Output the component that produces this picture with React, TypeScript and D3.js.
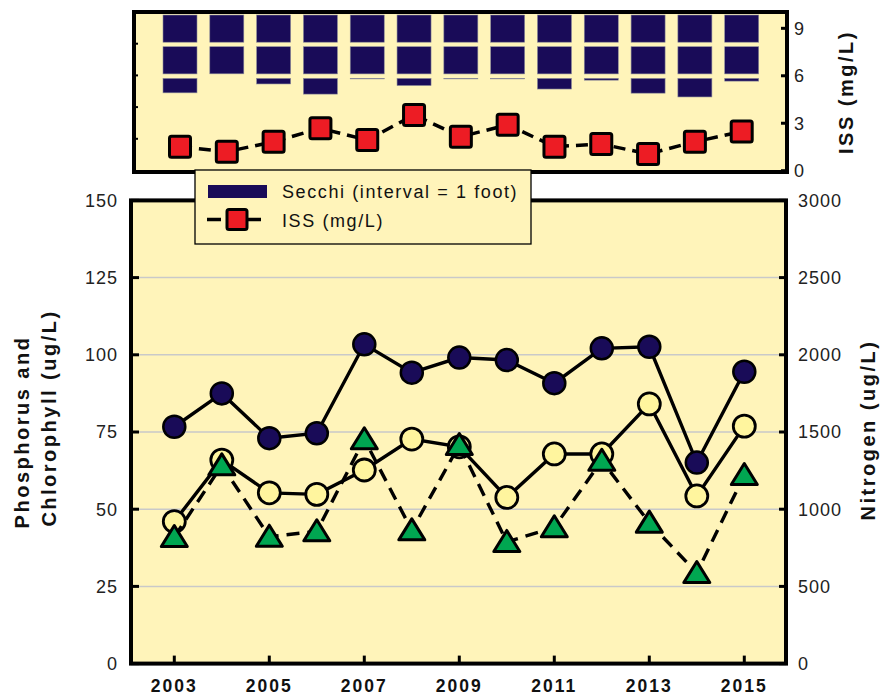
import React from 'react';
import * as d3 from 'd3';

// values
const years = [2003, 2004, 2005, 2006, 2007, 2008, 2009, 2010, 2011, 2012, 2013, 2014, 2015];
const secchiFt = [2.55, 1.95, 2.27, 2.59, 2.11, 2.32, 2.11, 2.11, 2.43, 2.15, 2.56, 2.68, 2.18];
const issMgL = [1.52, 1.2, 1.83, 2.68, 1.94, 3.52, 2.15, 2.9, 1.52, 1.69, 1.06, 1.83, 2.47];
const phosphorus = [76.7, 87.5, 73, 74.6, 103.4, 94.2, 99.1, 98.3, 90.8, 102.1, 102.6, 65.1, 94.5];
const chlorophyll = [46, 65.9, 55.3, 54.8, 62.7, 72.7, 70.2, 53.8, 67.9, 67.9, 84.1, 54.3, 76.9];
const nitrogen = [820, 1284, 822, 857, 1453, 863, 1416, 788, 883, 1314, 913, 587, 1221];

const leftTicks = [0, 25, 50, 75, 100, 125, 150];
const rightTicks = [0, 500, 1000, 1500, 2000, 2500, 3000];
const issTicks = [0, 3, 6, 9];
const secchiTicks = [1, 2, 3, 4];
const yearTicks = [2003, 2005, 2007, 2009, 2011, 2013, 2015];

const BG = '#FFF4BA';
const NAVY = '#190B58';
const FONT = "'Liberation Sans', Arial, Helvetica, sans-serif";

export default function App() {
  const W = 887;
  const H = 696;

  // main panel
  const main = { left: 131, right: 786, top: 200.4, bottom: 663.6 };
  const x = d3.scaleLinear().domain([2003, 2015]).range([174.3, 744.3]);
  const yL = d3.scaleLinear().domain([0, 150]).range([main.bottom, main.top]);
  const yR = d3.scaleLinear().domain([0, 3000]).range([main.bottom, main.top]);

  // top panel
  const top = { left: 134, right: 787, top: 12, bottom: 172 };
  const xT = d3.scaleLinear().domain([2003, 2015]).range([180, 741.7]);
  const ySec = d3.scaleLinear().domain([0, 5]).range([top.top, top.top + 5 * 31.7]);
  const yIss = d3.scaleLinear().domain([0, 10]).range([170.7, 12.5]);

  const barW = 34;

  const lineP = d3.line<number>().x((_, i) => x(years[i])).y(d => yL(d));
  const lineN = d3.line<number>().x((_, i) => x(years[i])).y(d => yR(d));
  const lineIss = d3.line<number>().x((_, i) => xT(years[i])).y(d => yIss(d));

  const tri = (cx: number, cy: number) =>
    `M${cx},${cy - 11.5}L${cx + 13},${cy + 9.5}L${cx - 13},${cy + 9.5}Z`;

  // secchi bars split into 1-foot pieces
  const segs: { yr: number; y0: number; y1: number }[] = [];
  years.forEach((yr, i) => {
    const v = secchiFt[i];
    for (let k = 0; k < Math.ceil(v); k++) {
      const y0 = ySec(k) + 3;
      const y1 = ySec(Math.min(k + 1, v)) - (k + 1 <= v ? 1.5 : 0);
      if (y1 > y0) segs.push({ yr, y0, y1 });
    }
  });

  const tickText = { fontFamily: FONT, fontSize: 18, letterSpacing: 1, fill: '#222' };
  const titleText = { fontFamily: FONT, fontSize: 20, fontWeight: 700, letterSpacing: 2.5, fill: '#111' };

  return (
    <svg width={W} height={H} style={{ position: 'absolute', left: 0, top: 0, background: '#fff' }}>
      {/* ---------- top panel ---------- */}
      <rect x={top.left} y={top.top} width={top.right - top.left} height={top.bottom - top.top} fill={BG} />
      {segs.map((s, i) => (
        <rect key={'s' + i} x={xT(s.yr) - barW / 2} y={s.y0} width={barW} height={s.y1 - s.y0}
          fill={NAVY} stroke="#8a8a9a" strokeWidth={0.6} />
      ))}
      <path d={lineIss(issMgL) || ''} fill="none" stroke="#000" strokeWidth={3.5} strokeDasharray="12 7" />
      {issMgL.map((v, i) => (
        <rect key={'q' + i} x={xT(years[i]) - 10.5} y={yIss(v) - 10.5} width={21} height={21} rx={2}
          fill="#ED1C24" stroke="#000" strokeWidth={3} />
      ))}
      {secchiTicks.map(t => (
        <line key={'st' + t} x1={top.left} x2={top.left + 4} y1={ySec(t)} y2={ySec(t)} stroke="#000" strokeWidth={2} />
      ))}
      {issTicks.map(t => (
        <g key={'it' + t}>
          <line x1={top.right - 6} x2={top.right} y1={yIss(t)} y2={yIss(t)} stroke="#000" strokeWidth={3} />
          <text x={794} y={yIss(t)} dy="0.36em" style={tickText}>{t}</text>
        </g>
      ))}
      <rect x={top.left} y={top.top} width={top.right - top.left} height={top.bottom - top.top}
        fill="none" stroke="#000" strokeWidth={4} />
      <text transform={`translate(853,92) rotate(-90)`} textAnchor="middle" style={titleText}>ISS (mg/L)</text>

      {/* ---------- main panel ---------- */}
      <rect x={main.left} y={main.top} width={main.right - main.left} height={main.bottom - main.top} fill={BG} />
      {leftTicks.filter(t => t > 0 && t < 150).map(t => (
        <line key={'g' + t} x1={main.left} x2={main.right} y1={yL(t)} y2={yL(t)} stroke="#c9c9c9" strokeWidth={1.5} />
      ))}

      <path d={lineP(phosphorus) || ''} fill="none" stroke="#000" strokeWidth={3.4} />
      {phosphorus.map((v, i) => (
        <circle key={'p' + i} cx={x(years[i])} cy={yL(v)} r={11} fill={NAVY} stroke="#000" strokeWidth={2.5} />
      ))}
      <path d={lineP(chlorophyll) || ''} fill="none" stroke="#000" strokeWidth={3.4} />
      {chlorophyll.map((v, i) => (
        <circle key={'c' + i} cx={x(years[i])} cy={yL(v)} r={11} fill="#FFF59E" stroke="#000" strokeWidth={2.8} />
      ))}
      <path d={lineN(nitrogen) || ''} fill="none" stroke="#000" strokeWidth={3.4} strokeDasharray="13 8" />
      {nitrogen.map((v, i) => (
        <path key={'n' + i} d={tri(x(years[i]), yR(v))} fill="#00A651" stroke="#000" strokeWidth={3} strokeLinejoin="round" />
      ))}

      {leftTicks.map(t => (
        <g key={'lt' + t}>
          <line x1={main.left} x2={main.left + 8} y1={yL(t)} y2={yL(t)} stroke="#000" strokeWidth={3} />
          <text x={118} y={yL(t)} dy="0.36em" textAnchor="end" style={tickText}>{t}</text>
        </g>
      ))}
      {rightTicks.map(t => (
        <g key={'rt' + t}>
          <line x1={main.right - 7} x2={main.right} y1={yR(t)} y2={yR(t)} stroke="#000" strokeWidth={3} />
          <text x={798} y={yR(t)} dy="0.36em" style={tickText}>{t}</text>
        </g>
      ))}
      {yearTicks.map(t => (
        <g key={'yt' + t}>
          <line x1={x(t)} x2={x(t)} y1={main.bottom} y2={main.bottom - 8} stroke="#000" strokeWidth={3} />
          <text x={x(t)} y={692} textAnchor="middle"
            style={{ fontFamily: FONT, fontSize: 17.5, fontWeight: 700, letterSpacing: 2, fill: '#111' }}>{t}</text>
        </g>
      ))}
      <rect x={main.left} y={main.top} width={main.right - main.left} height={main.bottom - main.top}
        fill="none" stroke="#000" strokeWidth={4} />

      <text transform="translate(29,432) rotate(-90)" textAnchor="middle" style={titleText}>Phosphorus and</text>
      <text transform="translate(56,418) rotate(-90)" textAnchor="middle" style={titleText}>Chlorophyll (ug/L)</text>
      <text transform="translate(875,430) rotate(-90)" textAnchor="middle" style={titleText}>Nitrogen (ug/L)</text>

      {/* ---------- legend ---------- */}
      <g>
        <rect x={195} y={170} width={336} height={74} fill={BG} stroke="#000" strokeWidth={1.3} />
        <rect x={208} y={185} width={59} height={13} fill={NAVY} />
        <text x={282} y={198} style={{ fontFamily: FONT, fontSize: 18, letterSpacing: 1.6, fill: '#111' }}>
          Secchi (interval = 1 foot)
        </text>
        <line x1={207} x2={261} y1={219.5} y2={219.5} stroke="#000" strokeWidth={3.5} strokeDasharray="14 12 40" />
        <rect x={227} y={209.5} width={20} height={20} rx={2} fill="#ED1C24" stroke="#000" strokeWidth={3} />
        <text x={282} y={227} style={{ fontFamily: FONT, fontSize: 18, letterSpacing: 1.6, fill: '#111' }}>
          ISS (mg/L)
        </text>
      </g>
    </svg>
  );
}
